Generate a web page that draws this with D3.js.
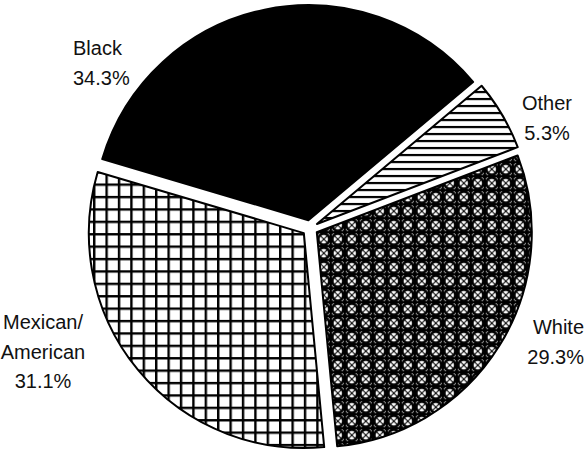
<!DOCTYPE html>
<html>
<head>
<meta charset="utf-8">
<script src="https://cdn.jsdelivr.net/npm/d3@7"></script>
<style>
  html, body { margin: 0; padding: 0; background: #fff; }
  svg { display: block; }
  text { font-family: "Liberation Sans", Arial, Helvetica, sans-serif; fill: #111; }
</style>
</head>
<body>
<svg id="chart" width="588" height="453"></svg>
<script>
// ---- data ----
const categories = ["Other", "White", "Mexican/American", "Black"];
const values = [5.3, 29.3, 31.1, 34.3];
const labelLines = [["Other", "5.3%"], ["White", "29.3%"], ["Mexican/", "American", "31.1%"], ["Black", "34.3%"]];
const fills = ["url(#stripes)", "url(#lattice)", "url(#grid)", "#000"];

// ---- layout ----
const W = 588, H = 453;
const cx = 310, cy = 228, R = 215, explode = 8;
const svg = d3.select("#chart");
const defs = svg.append("defs");

// horizontal stripes (Other)
const ps = defs.append("pattern").attr("id", "stripes").attr("patternUnits", "userSpaceOnUse")
  .attr("width", 8).attr("height", 7);
ps.append("rect").attr("width", 8).attr("height", 7).attr("fill", "#fff");
ps.append("rect").attr("y", 0).attr("width", 8).attr("height", 2.2).attr("fill", "#000");

// square grid (Mexican/American)
const g = 12.4;
const pg = defs.append("pattern").attr("id", "grid").attr("patternUnits", "userSpaceOnUse")
  .attr("width", g).attr("height", g);
pg.append("rect").attr("width", g).attr("height", g).attr("fill", "#fff");
pg.append("path").attr("d", `M0,1.2H${g} M1.2,0V${g}`).attr("stroke", "#000").attr("stroke-width", 2.4);

// lattice (White)
const t = 14;
const pl = defs.append("pattern").attr("id", "lattice").attr("patternUnits", "userSpaceOnUse")
  .attr("width", t).attr("height", t);
pl.append("rect").attr("width", t).attr("height", t).attr("fill", "#000");
pl.append("circle").attr("cx", t/2).attr("cy", t/2).attr("r", 4.2).attr("fill", "#fff");
[[0,0],[t,0],[0,t],[t,t]].forEach(([x,y]) =>
  pl.append("circle").attr("cx", x).attr("cy", y).attr("r", 3.4).attr("fill", "#fff"));
pl.append("path").attr("d", `M0,0H${t} M0,${t}H${t} M0,0V${t} M${t},0V${t}`).attr("stroke", "#000").attr("stroke-width", 2.0);
pl.append("path").attr("d", `M0,0L${t},${t} M${t},0L0,${t}`).attr("stroke", "#000").attr("stroke-width", 1.1);

const startA = 50 * Math.PI / 180;
const pie = d3.pie().sort(null).value(d => d).startAngle(startA).endAngle(startA + 2 * Math.PI);
const arcs = pie(values);
const arc = d3.arc().innerRadius(0).outerRadius(R);

const gPie = svg.append("g").attr("transform", `translate(${cx},${cy})`);
gPie.selectAll("path.slice").data(arcs).join("path")
  .attr("class", "slice")
  .attr("d", arc)
  .attr("transform", d => {
    const m = (d.startAngle + d.endAngle) / 2;
    return `translate(${explode * Math.sin(m)},${-explode * Math.cos(m)})`;
  })
  .attr("fill", (d, i) => fills[i])
  .attr("stroke", "#000")
  .attr("stroke-width", 2)
  .attr("stroke-linejoin", "round");

// ---- labels ----
const labelPos = [
  { x: 547, y: 110, anchor: "middle" },
  { x: 584, y: 334, anchor: "end" },
  { x: 43, y: 329, anchor: "middle" },
  { x: 73, y: 55, anchor: "start" }
];
const lineH = 29.5;
labelLines.forEach((lines, i) => {
  const p = labelPos[i];
  const tx = svg.append("text").attr("text-anchor", p.anchor).attr("font-size", 20);
  lines.forEach((s, k) => {
    tx.append("tspan").attr("x", p.x).attr("y", p.y + k * lineH).text(s);
  });
});
</script>
</body>
</html>
